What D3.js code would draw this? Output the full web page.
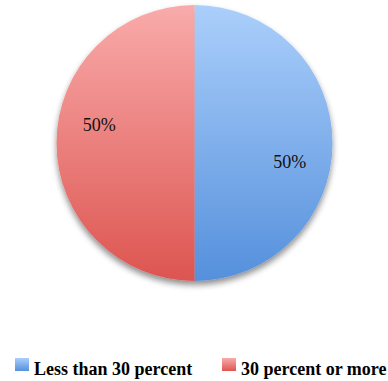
<!DOCTYPE html>
<html><head><meta charset="utf-8">
<script src="https://cdn.jsdelivr.net/npm/d3@7"></script>
<style>body{margin:0;background:#fff}svg{display:block}</style>
</head><body>
<script>
const categories = ["Less than 30 percent", "30 percent or more"];
const values = [50, 50];
const labels = ["50%", "50%"];
const topColors = ["#abcffb", "#f9abab"];
const bottomColors = ["#5590dc", "#dd5550"];

const W = 388, H = 381;
const FONT = "'Liberation Serif'";
const svg = d3.select("body").append("svg").attr("width", W).attr("height", H);
const defs = svg.append("defs");
const cx = 194.5, cy = 143, r = 138;

categories.forEach((c, i) => {
  const g = defs.append("linearGradient").attr("id", "g" + i)
    .attr("gradientUnits", "userSpaceOnUse")
    .attr("x1", 0).attr("y1", -r).attr("x2", 0).attr("y2", r);
  g.append("stop").attr("offset", 0).attr("stop-color", topColors[i]);
  g.append("stop").attr("offset", 1).attr("stop-color", bottomColors[i]);
  const lgr = defs.append("linearGradient").attr("id", "lg" + i).attr("x1", 0).attr("y1", 0).attr("x2", 0).attr("y2", 1);
  lgr.append("stop").attr("offset", 0).attr("stop-color", topColors[i]);
  lgr.append("stop").attr("offset", 1).attr("stop-color", bottomColors[i]);
});
const f = defs.append("filter").attr("id", "sh").attr("x", "-20%").attr("y", "-20%").attr("width", "140%").attr("height", "140%");
f.append("feGaussianBlur").attr("in", "SourceAlpha").attr("stdDeviation", 3);
f.append("feOffset").attr("dx", 0).attr("dy", 4).attr("result", "b");
f.append("feComponentTransfer").append("feFuncA").attr("type", "linear").attr("slope", 0.45);
const m = f.append("feMerge");
m.append("feMergeNode");
m.append("feMergeNode").attr("in", "SourceGraphic");

const pie = d3.pie().sort(null).value(d => d)(values);
const arc = d3.arc().innerRadius(0).outerRadius(r);
const g = svg.append("g").attr("transform", `translate(${cx},${cy})`).attr("filter", "url(#sh)");
g.selectAll("path").data(pie).join("path").attr("d", arc).attr("fill", (d, i) => `url(#g${i})`);

const labelR = 97, labelRot = 11 * Math.PI / 180;
svg.append("g").attr("transform", `translate(${cx},${cy})`)
  .selectAll("text").data(pie).join("text")
  .attr("transform", d => {
    const a = (d.startAngle + d.endAngle) / 2 + labelRot;
    return `translate(${labelR * Math.sin(a)},${-labelR * Math.cos(a)})`;
  })
  .attr("text-anchor", "middle").attr("dy", "0.35em")
  .style("font-family", FONT).style("font-size", "18px").attr("fill", "#111")
  .text((d, i) => labels[i]);

const legendX = [15, 222];
const lg = svg.append("g");
categories.forEach((c, i) => {
  lg.append("rect").attr("x", legendX[i]).attr("y", 358).attr("width", 14).attr("height", 13).attr("fill", `url(#lg${i})`);
  lg.append("text").attr("x", legendX[i] + 19).attr("y", 375)
    .style("font-family", FONT).style("font-weight", "bold").style("font-size", "18px")
    .attr("fill", "#000").text(c);
});
</script>
</body></html>
